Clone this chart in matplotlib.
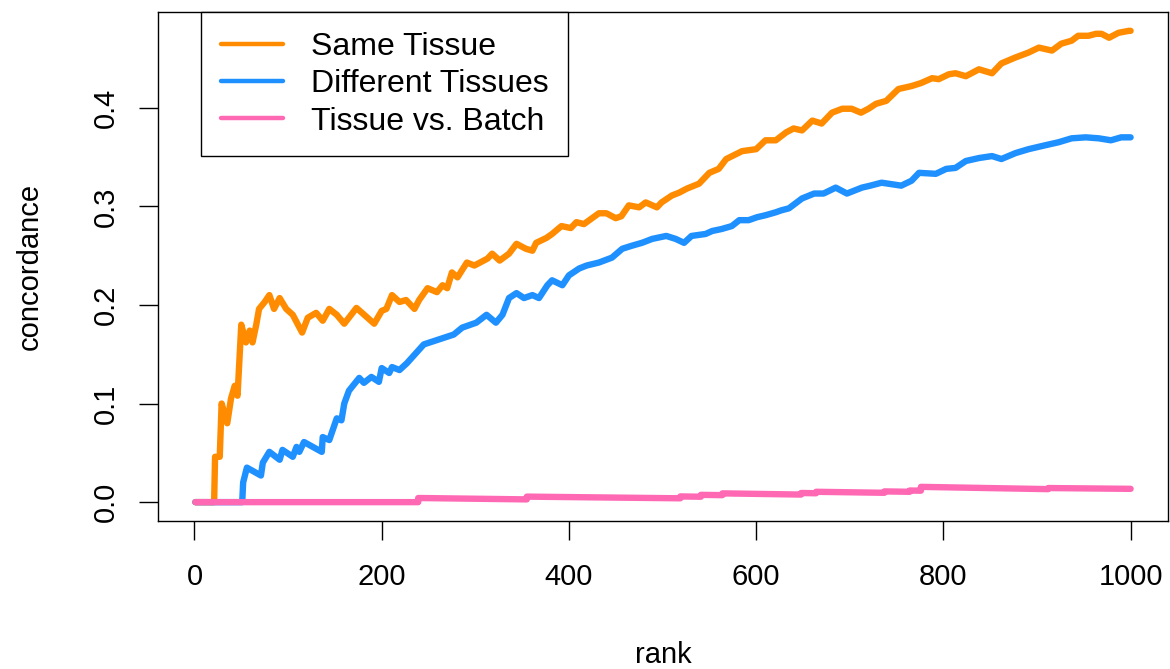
import matplotlib.pyplot as plt
import numpy as np

plt.rcParams['font.family'] = ['Liberation Sans', 'DejaVu Sans']

# values (rank, concordance)
same_rank = [1, 21, 22, 27, 29, 35, 39, 43, 46, 50, 55, 59, 62, 66, 69, 75, 80, 85, 91, 98,
             105, 115, 121, 130, 137, 144, 152, 160, 169, 173, 179, 192, 200, 205, 211, 219, 226,
             235, 240, 249, 259, 265, 270, 275, 281, 291, 299, 313, 318, 326, 336, 344, 354, 361,
             365, 376, 382, 392, 402, 408, 416, 432, 440, 450, 456, 464, 475, 482, 494, 499, 510,
             518, 526, 539, 550, 560, 568, 585, 600, 610, 621, 632, 640, 649, 660, 670, 681, 692,
             702, 712, 720, 728, 739, 752, 766, 776, 788, 795, 806, 813, 824, 838, 852, 862, 877,
             891, 902, 916, 926, 937, 944, 955, 963, 969, 977, 987, 998, 1000]
same_val = [0, 0, 0.046, 0.046, 0.100, 0.080, 0.105, 0.118, 0.108, 0.180, 0.162, 0.174, 0.162,
            0.180, 0.196, 0.203, 0.210, 0.196, 0.207, 0.196, 0.190, 0.172, 0.187, 0.192, 0.184,
            0.196, 0.190, 0.181, 0.192, 0.197, 0.192, 0.181, 0.194, 0.196, 0.210, 0.203, 0.205,
            0.196, 0.205, 0.217, 0.213, 0.220, 0.217, 0.233, 0.228, 0.243, 0.240, 0.247, 0.252,
            0.245, 0.252, 0.262, 0.257, 0.255, 0.263, 0.268, 0.272, 0.280, 0.278, 0.284, 0.282,
            0.293, 0.293, 0.288, 0.290, 0.301, 0.299, 0.304, 0.299, 0.304, 0.311, 0.314, 0.318,
            0.323, 0.334, 0.338, 0.348, 0.356, 0.358, 0.367, 0.367, 0.375, 0.379, 0.377, 0.387,
            0.384, 0.395, 0.399, 0.399, 0.395, 0.399, 0.404, 0.407, 0.419, 0.422, 0.425, 0.430,
            0.429, 0.434, 0.435, 0.432, 0.439, 0.435, 0.445, 0.451, 0.456, 0.461, 0.458, 0.465,
            0.468, 0.473, 0.473, 0.475, 0.475, 0.471, 0.476, 0.478, 0.478]

diff_rank = [1, 51, 52, 56, 71, 73, 80, 91, 94, 105, 109, 112, 117, 136, 137, 144, 152, 157,
             160, 165, 176, 181, 189, 197, 200, 208, 211, 219, 227, 245, 261, 277, 286, 301, 312,
             322, 329, 336, 344, 352, 361, 368, 377, 382, 393, 400, 411, 419, 432, 446, 457, 467,
             478, 489, 504, 514, 523, 531, 546, 553, 563, 574, 582, 592, 601, 610, 621, 627, 635,
             649, 662, 672, 685, 697, 713, 722, 734, 755, 766, 774, 792, 803, 813, 824, 838, 852,
             862, 877, 891, 909, 923, 937, 952, 966, 979, 990, 1000]
diff_val = [0, 0, 0.020, 0.035, 0.027, 0.040, 0.051, 0.043, 0.053, 0.046, 0.056, 0.051, 0.061,
            0.051, 0.066, 0.063, 0.085, 0.083, 0.100, 0.113, 0.126, 0.121, 0.127, 0.122, 0.136,
            0.131, 0.137, 0.134, 0.141, 0.160, 0.165, 0.170, 0.177, 0.182, 0.190, 0.182, 0.190,
            0.207, 0.212, 0.207, 0.210, 0.207, 0.220, 0.225, 0.220, 0.230, 0.237, 0.240, 0.243,
            0.248, 0.257, 0.260, 0.263, 0.267, 0.270, 0.267, 0.263, 0.270, 0.272, 0.275, 0.277,
            0.280, 0.286, 0.286, 0.289, 0.291, 0.294, 0.296, 0.298, 0.308, 0.313, 0.313, 0.319,
            0.313, 0.319, 0.321, 0.324, 0.321, 0.326, 0.334, 0.333, 0.338, 0.339, 0.346, 0.349,
            0.351, 0.348, 0.354, 0.358, 0.362, 0.365, 0.369, 0.370, 0.369, 0.367, 0.370, 0.370]

batch_rank = [1, 239, 239, 355, 355, 519, 519, 541, 541, 564, 564, 648, 648, 664, 664, 737, 737,
              764, 764, 776, 776, 912, 912, 1000]
batch_val = [0, 0, 0.0042, 0.0028, 0.0056, 0.0039, 0.0058, 0.0055, 0.0074, 0.0071, 0.0089,
             0.0077, 0.0093, 0.0090, 0.0105, 0.0095, 0.0109, 0.0105, 0.0118, 0.0116, 0.0155,
             0.0132, 0.0143, 0.0135]

labels = ['Same Tissue', 'Different Tissues', 'Tissue vs. Batch']
colors = ['#FF8C00', '#1E90FF', '#FF69B4']

fig = plt.figure(figsize=(11.7, 6.69), dpi=100)
ax = fig.add_axes([158 / 1170, 1 - 521 / 669, 1010 / 1170, 509 / 669])

series = [(same_rank, same_val), (diff_rank, diff_val), (batch_rank, batch_val)]
for (r, v), lab, col in zip(series, labels, colors):
    ax.plot(r, v, color=col, lw=4.6, label=lab, solid_capstyle='round', solid_joinstyle='round')

ax.set_xlim(1 - 0.04 * 999, 1000 + 0.04 * 999)
ax.set_ylim(-0.04 * 0.478, 0.478 * 1.04)

ax.set_xticks(np.arange(0, 1001, 200))
ax.set_yticks([0, 0.1, 0.2, 0.3, 0.4])
ax.set_yticklabels(['0.0', '0.1', '0.2', '0.3', '0.4'], rotation=90, va='center')
ax.tick_params(axis='both', direction='out', length=13.5, width=1.0, labelsize=21)
ax.tick_params(axis='x', pad=17)
ax.tick_params(axis='y', pad=14)
for s in ax.spines.values():
    s.set_linewidth(1.0)

ax.set_xlabel('rank', fontsize=21, va='center')
ax.xaxis.set_label_coords(0.5, (521 - 655) / 509)
ax.set_ylabel('concordance', fontsize=21, va='center')
ax.yaxis.set_label_coords((30 - 158) / 1010, 0.5)

leg = ax.legend(loc='upper left', bbox_to_anchor=((201 - 158) / 1010, 1.0), borderaxespad=0,
                fontsize=23, fancybox=False, framealpha=1, edgecolor='black',
                handlelength=1.94, handletextpad=0.875, borderpad=0.62, labelspacing=0.23)
leg.get_frame().set_linewidth(1.0)
for line in leg.get_lines():
    line.set_linewidth(3.2)

fig.savefig('out.png', dpi=100)
